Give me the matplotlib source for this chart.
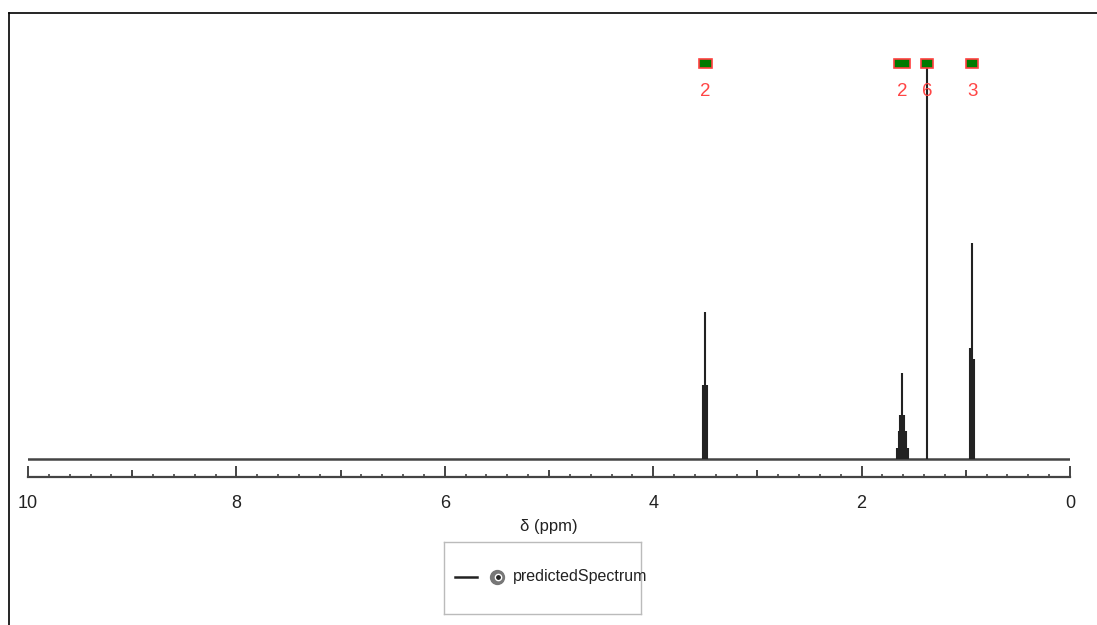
import numpy as np
import matplotlib
matplotlib.use('Agg')
import matplotlib.pyplot as plt
from matplotlib.patches import Rectangle
from matplotlib.lines import Line2D

plt.rcParams['font.family'] = ['Liberation Sans Narrow', 'Liberation Sans', 'DejaVu Sans']

## stick lines of the predicted spectrum (ppm, relative intensity)
peak_ppm = [3.518, 3.500, 3.482,
            1.665, 1.645, 1.628, 1.610, 1.592, 1.575, 1.555,
            1.372,
            0.960, 0.940, 0.920]
peak_int = [0.166, 0.329, 0.166,
            0.025, 0.062, 0.098, 0.192, 0.098, 0.062, 0.025,
            0.880,
            0.248, 0.483, 0.224]

## integration regions
integ_ppm = [3.50, 1.61, 1.372, 0.94]
integ_width = [0.12, 0.15, 0.12, 0.12]
integ_val = ['2', '2', '6', '3']

xticks_major = [10, 8, 6, 4, 2, 0]
xticks_mid = [9, 7, 5, 3, 1]

W, H = 1097, 625
fig = plt.figure(figsize=(W / 100, H / 100), dpi=100)
ax = fig.add_axes([28 / W, (H - 477) / H, 1042 / W, 465 / H])

ax.axhline(0, color='#444444', lw=1.8, zorder=2)
ax.vlines(peak_ppm, 0, peak_int, color='#222222', lw=1.5, zorder=3)

for p, w, v in zip(integ_ppm, integ_width, integ_val):
    ax.add_patch(Rectangle((p + w / 2, 0.874), -w, 0.021, facecolor='#007a00',
                           edgecolor='#ff4040', lw=1.2, zorder=5))
    ax.text(p, 0.823, v, color='#ff4545', fontsize=13.5, ha='center', va='center', zorder=6)

ax.set_xlim(10, 0)
ax.set_ylim(-18 / 447, 1.0)
ax.set_yticks([])
for s in ['top', 'left', 'right']:
    ax.spines[s].set_visible(False)
ax.spines['bottom'].set_color('#444444')
ax.spines['bottom'].set_linewidth(1.6)
ax.set_xticks(xticks_major)
ax.set_xticklabels([str(t) for t in xticks_major])
ax.set_xticks(np.arange(0, 10.01, 0.2), minor=True)
ax.tick_params(axis='x', which='major', direction='in', length=8, width=1.4,
               color='#444444', labelsize=13, pad=13, labelcolor='#222222')
ax.tick_params(axis='x', which='minor', direction='in', length=2.5, width=1.2, color='#444444')
sec = ax.secondary_xaxis('bottom')
sec.set_xticks(xticks_mid)
sec.set_xticklabels([])
sec.spines['bottom'].set_visible(False)
sec.tick_params(direction='in', length=5, width=1.4, color='#444444')
ax.set_xlabel('δ (ppm)', fontsize=12, labelpad=5, color='#222222')

## legend box
lax = fig.add_axes([444 / W, (H - 614) / H, 197 / W, 72 / H])
lax.set_xlim(0, 197)
lax.set_ylim(72, 0)
lax.set_xticks([])
lax.set_yticks([])
for s in lax.spines.values():
    s.set_color('#bbbbbb')
    s.set_linewidth(1.0)
lax.plot([11, 33], [35, 35], color='#222222', lw=1.8)
lax.plot([53], [35], marker='o', ms=10, mfc='#777777', mec='#777777')
lax.plot([54], [35], marker='o', ms=4.5, mfc='#222222', mec='white', mew=1)
lax.text(69, 35, 'predictedSpectrum', fontsize=11.5, va='center', ha='left', color='#222222')

## outer frame
fig.add_artist(Line2D([9 / W, 9 / W], [0, (H - 12.5) / H], color='black', lw=1.2))
fig.add_artist(Line2D([9 / W, 1], [(H - 12.5) / H, (H - 12.5) / H], color='black', lw=1.2))

fig.savefig('out.png', dpi=100)
